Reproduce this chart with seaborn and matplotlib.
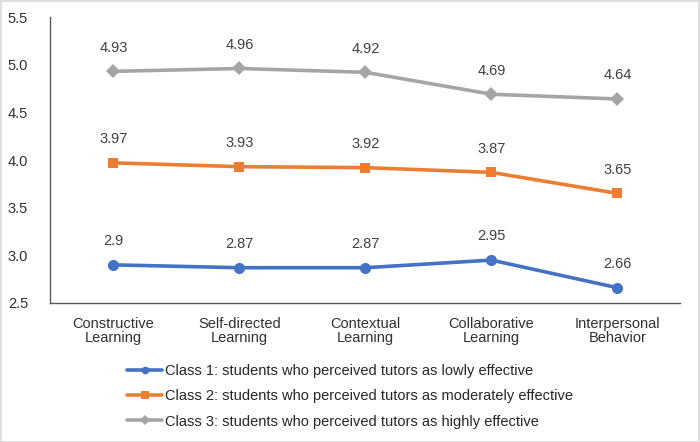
import pandas as pd
import matplotlib.pyplot as plt
import seaborn as sns
from matplotlib.lines import Line2D
from matplotlib.patches import Rectangle

# Chart data
dimensions = ['Constructive\nLearning', 'Self-directed\nLearning', 'Contextual\nLearning',
              'Collaborative\nLearning', 'Interpersonal\nBehavior']
class1 = [2.9, 2.87, 2.87, 2.95, 2.66]
class2 = [3.97, 3.93, 3.92, 3.87, 3.65]
class3 = [4.93, 4.96, 4.92, 4.69, 4.64]
class_names = ['Class 1: students who perceived tutors as lowly effective',
               'Class 2: students who perceived tutors as moderately effective',
               'Class 3: students who perceived tutors as highly effective']
value_labels = [['2.9', '2.87', '2.87', '2.95', '2.66'],
                ['3.97', '3.93', '3.92', '3.87', '3.65'],
                ['4.93', '4.96', '4.92', '4.69', '4.64']]

colors = ['#4472C4', '#ED7D31', '#A5A5A5']
markers = ['o', 's', 'D']
marker_sizes = [8, 7, 7]

sns.set_style('white')
plt.rcParams['font.family'] = ['Liberation Sans', 'DejaVu Sans']

rows = []
for name, vals in zip(class_names, [class1, class2, class3]):
    for i, v in enumerate(vals):
        rows.append({'dim': i, 'score': v, 'cls': name})
df = pd.DataFrame(rows)

fig = plt.figure(figsize=(7, 4.42), dpi=100)
ax = fig.add_axes([0.072, 0.3145, 0.90, 0.647])

for k, name in enumerate(class_names):
    sub = df[df['cls'] == name]
    sns.lineplot(data=sub, x='dim', y='score', ax=ax, color=colors[k], linewidth=2.6,
                 marker=markers[k], markersize=marker_sizes[k], markeredgewidth=0,
                 legend=False)
    for i, v in enumerate(sub['score']):
        ax.annotate(value_labels[k][i], (i, v), xytext=(0, 12), textcoords='offset points',
                    ha='center', va='bottom', fontsize=10.5, color='#404040')

ax.set_xlim(-0.5, 4.5)
ax.set_ylim(2.5, 5.5)
ax.set_yticks([2.5, 3.0, 3.5, 4.0, 4.5, 5.0, 5.5])
ax.set_yticklabels(['2.5', '3.0', '3.5', '4.0', '4.5', '5.0', '5.5'])
ax.set_xticks(range(len(dimensions)))
ax.set_xticklabels(dimensions, linespacing=1.05)
ax.tick_params(axis='both', length=0, labelsize=10.5, labelcolor='#303030')
ax.tick_params(axis='y', pad=16)
ax.tick_params(axis='x', pad=10)
ax.set_xlabel('')
ax.set_ylabel('')
for side in ['top', 'right']:
    ax.spines[side].set_visible(False)
for side in ['left', 'bottom']:
    ax.spines[side].set_color('#595959')
    ax.spines[side].set_linewidth(1.0)

# separate legend handles with smaller markers
handles = [Line2D([], [], color=colors[k], linewidth=2.6, marker=markers[k],
                  markersize=5.5, markeredgewidth=0) for k in range(3)]
fig.legend(handles, class_names, loc='upper center', bbox_to_anchor=(0.5, 0.2),
           frameon=False, fontsize=10.5, handlelength=2.4, handletextpad=0.15,
           labelspacing=0.78, borderpad=0.2)

fig.patches.append(Rectangle((0.001, 0.001), 0.998, 0.997, transform=fig.transFigure,
                             fill=False, edgecolor='#D9D9D9', linewidth=1.2))

fig.savefig('out.png', dpi=100)
